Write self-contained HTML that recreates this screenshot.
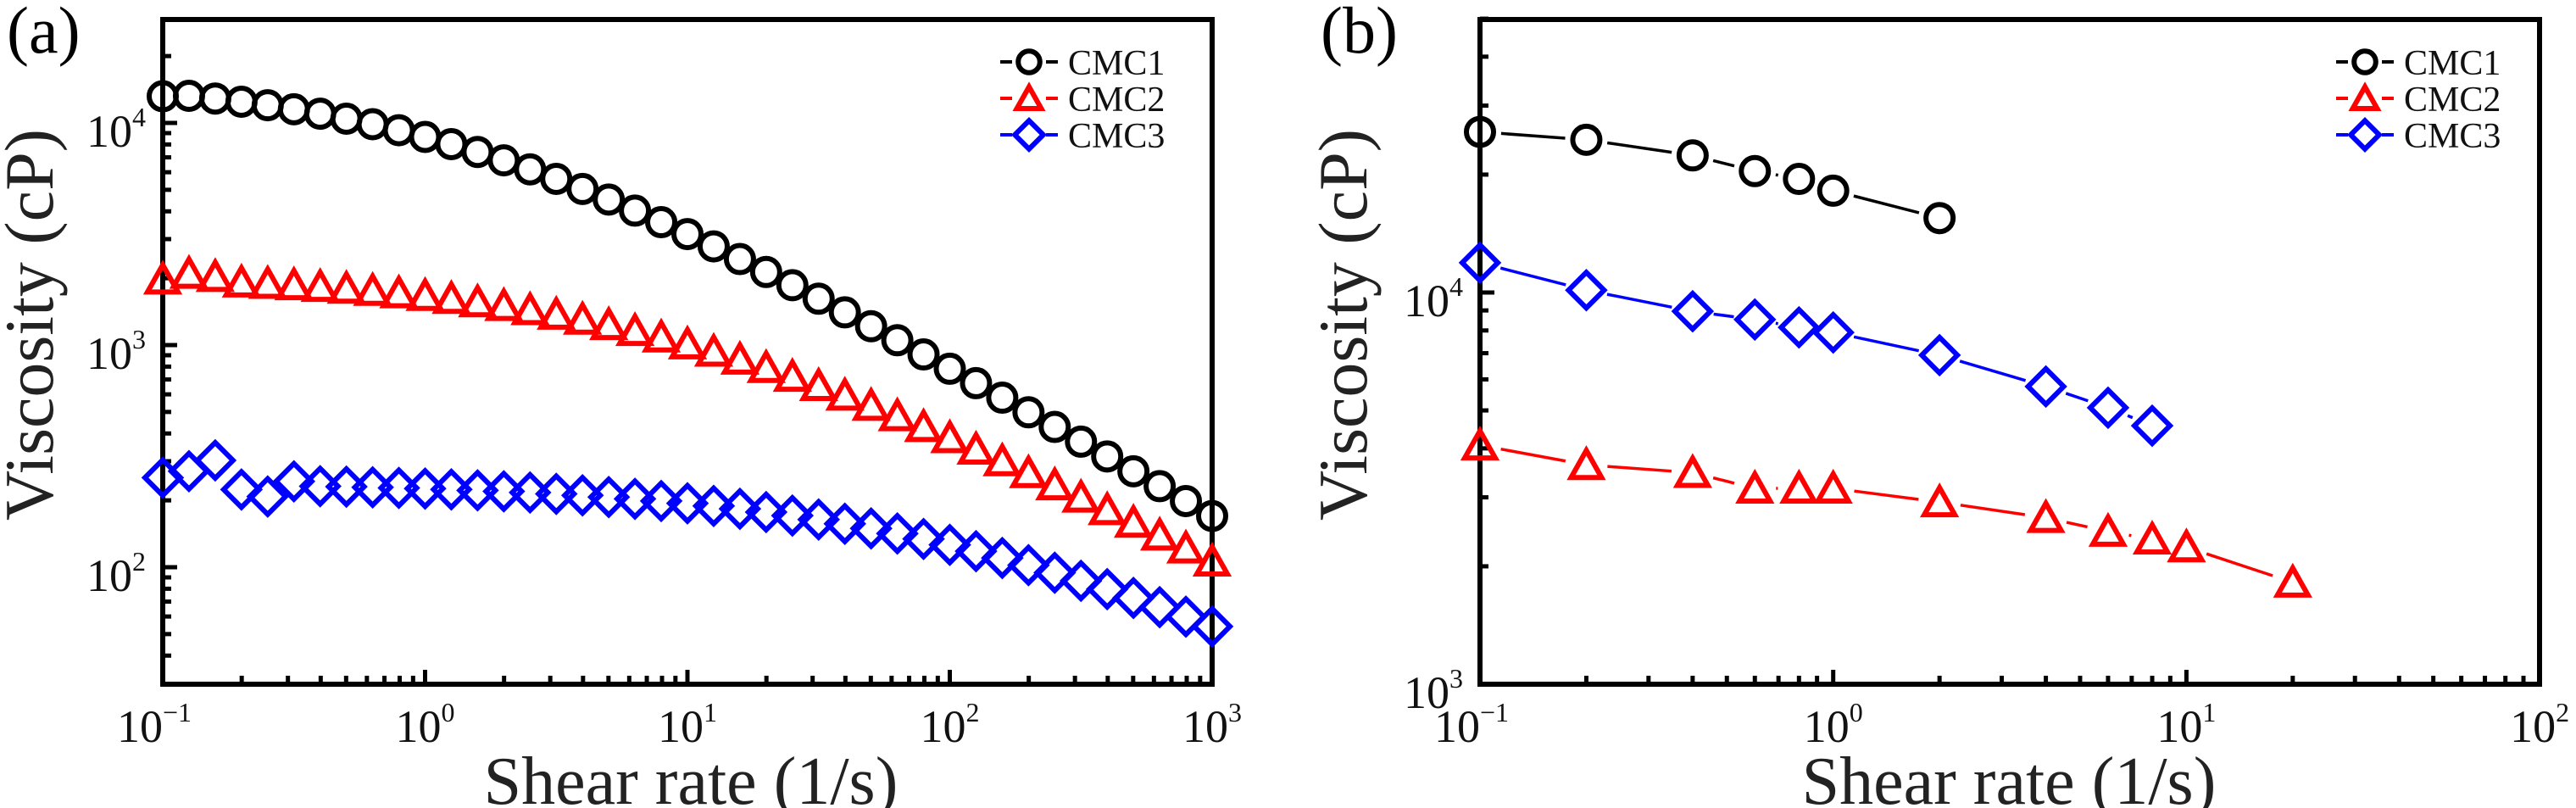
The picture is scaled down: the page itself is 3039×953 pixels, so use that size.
<!DOCTYPE html>
<html><head><meta charset="utf-8">
<style>
html,body{margin:0;padding:0;background:#fff;}
svg{display:block;}
text{font-family:"Liberation Serif",serif;}
</style></head>
<body>
<svg id="s" width="3039" height="953" viewBox="0 0 3039 953" xmlns="http://www.w3.org/2000/svg">
<text x="8" y="62" font-size="78">(a)</text>
<text x="1558" y="62" font-size="78">(b)</text>
<text transform="translate(62,383) rotate(-90)" font-size="82" text-anchor="middle" fill="#222">Viscosity (cP)</text>
<text transform="translate(1612,383) rotate(-90)" font-size="82" text-anchor="middle" fill="#222">Viscosity (cP)</text>
<text x="815" y="948" font-size="80" text-anchor="middle" fill="#222">Shear rate (1/s)</text>
<text x="2370" y="948" font-size="80" text-anchor="middle" fill="#222">Shear rate (1/s)</text>
<g id="g"></g>
</svg>
<script>
var NS="http://www.w3.org/2000/svg",G=document.getElementById('g');
function el(t,a,txt){var e=document.createElementNS(NS,t);for(var k in a)e.setAttribute(k,a[k]);if(txt!==undefined)e.textContent=txt;G.appendChild(e);return e;}
function panel(P){
 var X=function(l){return P.x0+(l-P.lx0)*P.dx;},Y=function(l){return P.y0-(l-P.ly0)*P.dy;};
 for(var d=P.lx0;d<P.lx1;d++){for(var m=1;m<10;m++){var l=d+Math.log10(m);if(l<=P.lx0+1e-9)continue;var x=X(l);el('line',{x1:x,x2:x,y1:P.bot,y2:P.bot-(m==1?17:10),stroke:'#000','stroke-width':5});}}
 for(var d=P.lx0;d<=P.lx1;d++){var x=X(d);var t=el('text',{x:x-(d<0?10:0),y:875,'font-size':54,'text-anchor':'middle',fill:'#111'});t.innerHTML='10<tspan dy="-24" font-size="32">'+(d<0?'\u2212'+(-d):d)+'</tspan>';}
 for(var d=Math.floor(P.ylo);d<=P.yhi;d++){for(var m=1;m<10;m++){var l=d+Math.log10(m);if(l<=P.ylo+0.02||l>=P.yhi)continue;var y=Y(l);el('line',{x1:P.x0,x2:P.x0+(m==1?17:10),y1:y,y2:y,stroke:'#000','stroke-width':5});}}
 P.ylabs.forEach(function(d){var y=Y(d);var t=el('text',{x:P.x0-20,y:y+28,'font-size':54,'text-anchor':'end',fill:'#111'});t.innerHTML='10<tspan dy="-24" font-size="32">'+d+'</tspan>';});
 el('rect',{x:P.x0,y:23,width:P.x1-P.x0,height:P.bot-23,fill:'none',stroke:'#000','stroke-width':6});
 P.series.forEach(function(s){
  var pts=s.d.map(function(p){return [X(p[0]),Y(p[1])];});
  if(P.lines){for(var i=0;i<pts.length-1;i++){var a=pts[i],b=pts[i+1],dxx=b[0]-a[0],dyy=b[1]-a[1],L=Math.hypot(dxx,dyy),g=25;if(L>2*g)el('line',{x1:a[0]+dxx*g/L,y1:a[1]+dyy*g/L,x2:b[0]-dxx*g/L,y2:b[1]-dyy*g/L,stroke:s.c,'stroke-width':3.5});}}
  pts.forEach(function(p){mk(s.m,p[0],p[1],s.c);});
 });
 P.series.forEach(function(s,i){var y=P.legY+i*43;el('line',{x1:P.legX-34,x2:P.legX+34,y1:y,y2:y,stroke:s.c,'stroke-width':4,'stroke-dasharray':'14 40'});mk(s.m,P.legX,y,s.c,0.8);el('text',{x:P.legX+46,y:y+15,'font-size':42,fill:'#111'},s.n);});
}
function mk(m,x,y,c,sc){sc=sc||1;var r=16*sc;
 if(m=='o')el('circle',{cx:x,cy:y,r:r,fill:'none',stroke:c,'stroke-width':6});
 else if(m=='t')el('polygon',{points:(x-18*sc)+','+(y+15*sc)+' '+(x+18*sc)+','+(y+15*sc)+' '+x+','+(y-17*sc),fill:'none',stroke:c,'stroke-width':6});
 else el('polygon',{points:x+','+(y-21*sc)+' '+(x+21*sc)+','+y+' '+x+','+(y+21*sc)+' '+(x-21*sc)+','+y,fill:'none',stroke:c,'stroke-width':6});
}
function cross(e0,k,m){var a=[];for(var i=0;i<=40;i++){var lx=-1+i*0.1,x=Math.pow(10,lx);a.push([lx,Math.log10(e0/(1+Math.pow(k*x,m)))]);}return a;}
var c1=cross(16000,0.786,0.68);c1[0][1]=4.12;
var c2=cross(2100,0.113,0.62);c2[1][1]+=0.03;c2[2][1]+=0.02;
var c3=cross(240,0.0084,0.58);var adj=[0.03,0.06,0.11,-0.02,-0.05,0.02,0.0];adj.forEach(function(v,i){c3[i][1]+=v;});
panel({x0:192,x1:1430,lx0:-1,lx1:3,dx:309.5,y0:669,ly0:2,dy:262,bot:807,ylo:1.47,yhi:4.47,ylabs:[2,3,4],lines:false,legX:1214,legY:73,
 series:[{n:'CMC1',c:'#000',m:'o',d:c1},{n:'CMC2',c:'#f00',m:'t',d:c2},{n:'CMC3',c:'#00f',m:'d',d:c3}]});
var L=Math.log10;
function mp(xs,ys){return xs.map(function(x,i){return [L(x),ys[i]];});}
panel({x0:1746,x1:2996,lx0:-1,lx1:2,dx:416.7,y0:807,ly0:3,dy:462,bot:807,ylo:3,yhi:4.7,ylabs:[3,4],lines:true,legX:2790,legY:73,
 series:[{n:'CMC1',c:'#000',m:'o',d:mp([0.1,0.2,0.4,0.6,0.8,1,2],[4.41,4.39,4.35,4.31,4.29,4.26,4.19])},
 {n:'CMC2',c:'#f00',m:'t',d:mp([0.1,0.2,0.4,0.6,0.8,1,2,4,6,8,10,20],[3.61,3.56,3.54,3.50,3.50,3.50,3.465,3.425,3.39,3.37,3.35,3.26])},
 {n:'CMC3',c:'#00f',m:'d',d:mp([0.1,0.2,0.4,0.6,0.8,1,2,4,6,8],[4.076,4.006,3.952,3.931,3.911,3.898,3.84,3.76,3.706,3.66])}]});
</script>
</body></html>
